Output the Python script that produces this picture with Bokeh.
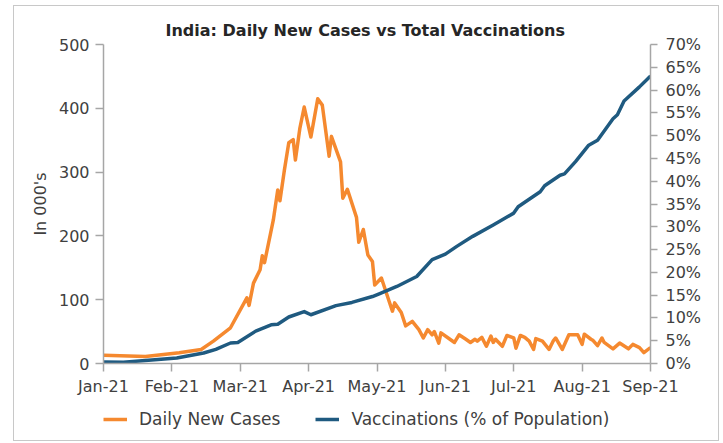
import numpy as np
import pandas as pd
from bokeh.plotting import figure
from bokeh.layouts import row, column
from bokeh.models import Range1d, LinearAxis, FixedTicker, Legend, LegendItem, Spacer
from bokeh.embed import file_html
from bokeh.resources import INLINE

# ---------------- data ----------------
month_labels = ["Jan-21", "Feb-21", "Mar-21", "Apr-21", "May-21",
                "Jun-21", "Jul-21", "Aug-21", "Sep-21"]

cases_dates = [
    "2021-01-01", "2021-01-20", "2021-02-04", "2021-02-13", "2021-02-18", "2021-02-25",
    "2021-03-04", "2021-03-05", "2021-03-07", "2021-03-10", "2021-03-11", "2021-03-12",
    "2021-03-16", "2021-03-18", "2021-03-19", "2021-03-21", "2021-03-23", "2021-03-25",
    "2021-03-26", "2021-03-28", "2021-03-30", "2021-04-02", "2021-04-05", "2021-04-07",
    "2021-04-10", "2021-04-11", "2021-04-15", "2021-04-16", "2021-04-18", "2021-04-22",
    "2021-04-23", "2021-04-25", "2021-04-27", "2021-04-29", "2021-04-30", "2021-05-03",
    "2021-05-08", "2021-05-09", "2021-05-12", "2021-05-14", "2021-05-17", "2021-05-20",
    "2021-05-22", "2021-05-24", "2021-05-26", "2021-05-27", "2021-05-29", "2021-05-30",
    "2021-06-03", "2021-06-05", "2021-06-07", "2021-06-10", "2021-06-12", "2021-06-14",
    "2021-06-15", "2021-06-17", "2021-06-19", "2021-06-21", "2021-06-22", "2021-06-23",
    "2021-06-26", "2021-06-28", "2021-07-01", "2021-07-02", "2021-07-04", "2021-07-06",
    "2021-07-08", "2021-07-10", "2021-07-11", "2021-07-14", "2021-07-17", "2021-07-19",
    "2021-07-20", "2021-07-23", "2021-07-26", "2021-07-28", "2021-07-30", "2021-08-01",
    "2021-08-02", "2021-08-05", "2021-08-06", "2021-08-08", "2021-08-10", "2021-08-11",
    "2021-08-15", "2021-08-18", "2021-08-22", "2021-08-24", "2021-08-27", "2021-08-29",
    "2021-09-01",
]
daily_cases_k = [
    13, 11, 17, 22, 35, 56,
    103, 91, 126, 147, 169, 158,
    225, 272, 255, 303, 346, 351,
    319, 368, 402, 355, 415, 405,
    325, 356, 316, 259, 273, 229,
    190, 210, 170, 160, 123, 134,
    82, 95, 80, 59, 66, 53,
    40, 53, 45, 50, 32, 48,
    38, 33, 45, 38, 33, 38,
    35, 41, 27, 43, 33, 38,
    27, 44, 40, 24, 44, 41,
    35, 22, 39, 35, 22, 36,
    40, 22, 45, 45, 45, 30,
    46, 38, 36, 28, 40, 33,
    23, 32, 23, 30, 25, 17,
    25,
]

vacc_dates = [
    "2021-01-01", "2021-01-10", "2021-02-03", "2021-02-14", "2021-02-19", "2021-02-25",
    "2021-02-28", "2021-03-08", "2021-03-15", "2021-03-18", "2021-03-23", "2021-03-30",
    "2021-04-02", "2021-04-13", "2021-04-20", "2021-04-29", "2021-05-02", "2021-05-10",
    "2021-05-19", "2021-05-26", "2021-06-01", "2021-06-06", "2021-06-13", "2021-06-22",
    "2021-07-01", "2021-07-03", "2021-07-13", "2021-07-15", "2021-07-22", "2021-07-24",
    "2021-07-29", "2021-08-04", "2021-08-08", "2021-08-15", "2021-08-17", "2021-08-20",
    "2021-08-27", "2021-09-01",
]
vacc_pct = [
    0.35, 0.3, 1.2, 2.3, 3.1, 4.5,
    4.6, 7.1, 8.5, 8.6, 10.2, 11.4,
    10.7, 12.7, 13.4, 14.7, 15.3, 16.9,
    19.1, 22.8, 24.0, 25.7, 27.9, 30.4,
    33.0, 34.4, 37.7, 39.0, 41.3, 41.6,
    44.3, 47.9, 49.0, 53.7, 54.6, 57.6,
    60.7, 63.1,
]

series_names = ["Daily New Cases", "Vaccinations (% of Population)"]
left_ticks = [0, 100, 200, 300, 400, 500]
pct_ticks = [0, 5, 10, 15, 20, 25, 30, 35, 40, 45, 50, 55, 60, 65, 70]

# ---------------- helpers ----------------
def month_pos(dates):
    d = pd.to_datetime(pd.Series(dates))
    return ((d.dt.month - 1) + (d.dt.day - 1) / d.dt.days_in_month).to_numpy()

FONT = "DejaVu Sans"
TXT = "#404040"
AX = "#a6a6a6"
ORANGE = "#F5892F"
BLUE = "#1F5A80"
W = 704

xc, xv = month_pos(cases_dates), month_pos(vacc_dates)

p = figure(width=W, height=392, x_range=Range1d(0, 8), y_range=Range1d(0, 500),
           output_backend="svg", toolbar_location=None,
           min_border_left=89, min_border_right=68, min_border_top=38, min_border_bottom=34)
p.outline_line_color = None
p.xgrid.visible = False
p.ygrid.visible = False
p.background_fill_color = "white"
p.border_fill_color = "white"

p.title.text = "India: Daily New Cases vs Total Vaccinations"
p.title.align = "left"
p.title.offset = 62
p.title.text_font = FONT
p.title.text_font_size = "16px"
p.title.text_font_style = "bold"
p.title.text_color = "#262626"

p.extra_y_ranges = {"vacc": Range1d(0, 70)}
raxis = LinearAxis(y_range_name="vacc", ticker=FixedTicker(ticks=pct_ticks),
                   major_label_overrides={t: f"{t}%" for t in pct_ticks})
p.add_layout(raxis, "right")

for ax in [p.xaxis[0], p.yaxis[0], raxis]:
    ax.axis_line_color = AX
    ax.axis_line_width = 1.5
    ax.major_tick_line_color = AX
    ax.major_tick_line_width = 1.5
    ax.major_tick_in = 0
    ax.major_tick_out = 8
    ax.minor_tick_line_color = None
    ax.major_label_text_font = FONT
    ax.major_label_text_font_size = "16px"
    ax.major_label_text_color = TXT

p.xaxis.ticker = FixedTicker(ticks=list(range(len(month_labels))))
p.xaxis.major_label_overrides = {i: lab for i, lab in enumerate(month_labels)}
p.xaxis.major_label_standoff = 5

p.yaxis[0].ticker = FixedTicker(ticks=left_ticks)
p.yaxis[0].major_label_standoff = 6
p.yaxis[0].axis_label = "In 000's"
p.yaxis[0].axis_label_text_font = FONT
p.yaxis[0].axis_label_text_font_size = "16px"
p.yaxis[0].axis_label_text_font_style = "normal"
p.yaxis[0].axis_label_text_color = TXT
p.yaxis[0].axis_label_standoff = 6
raxis.major_tick_out = 7
raxis.major_label_standoff = 8

p.line(xc, daily_cases_k, line_color=ORANGE, line_width=3.5, line_join="round")
p.line(xv, vacc_pct, y_range_name="vacc", line_color=BLUE, line_width=3.5, line_join="round")

# ---- legend strip (separate canvas so it is not clipped by the plot frame) ----
# same series are attached here only as legend sources; the strip's y range keeps them out of view
lf = figure(width=W, height=42, x_range=Range1d(0, 8), y_range=Range1d(1000, 1001),
            x_axis_location=None, y_axis_location=None,
            output_backend="svg", toolbar_location=None, min_border=0)
lf.grid.visible = False
lf.outline_line_color = None
lf.background_fill_color = "white"
lf.border_fill_color = "white"
k1 = lf.line(xc, daily_cases_k, line_color=ORANGE, line_width=3.5)
k2 = lf.line(xv, vacc_pct, line_color=BLUE, line_width=3.5)
legend = Legend(items=[LegendItem(label=series_names[0], renderers=[k1]),
                       LegendItem(label=series_names[1], renderers=[k2])],
                location=(0, 11), orientation="horizontal", padding=0, margin=0,
                border_line_color=None, background_fill_alpha=0,
                glyph_width=24, glyph_height=20, label_standoff=12, spacing=35,
                label_text_font=FONT, label_text_font_size="17px", label_text_color=TXT)
lf.add_layout(legend)

box = column(p, lf)
box.styles = {"border": "1px solid #c8c8c8"}
layout = row(Spacer(width=13), column(Spacer(height=5), box))
open("out.html", "w").write(file_html(layout, INLINE))
